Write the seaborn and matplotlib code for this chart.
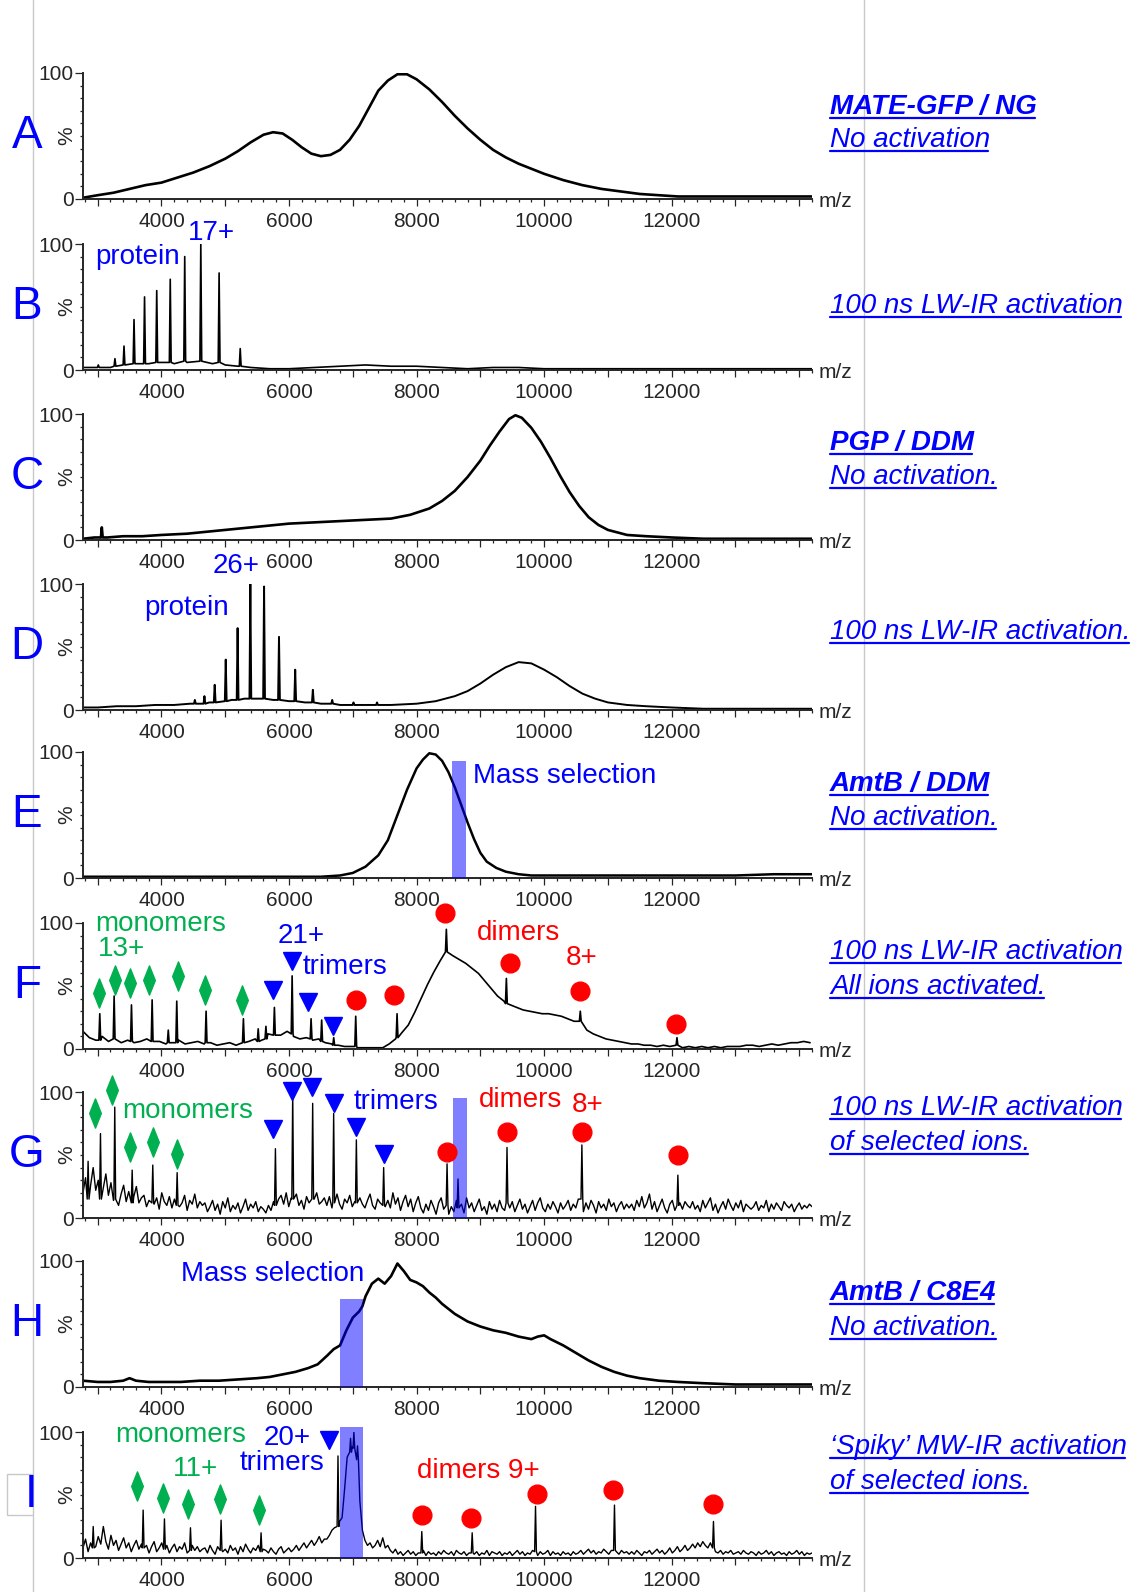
import numpy as np
import matplotlib
matplotlib.use("Agg")
import matplotlib.pyplot as plt
import seaborn as sns
from matplotlib.ticker import MultipleLocator, FuncFormatter
from matplotlib.path import Path
from matplotlib.lines import Line2D
from matplotlib.patches import Rectangle

# ---------------- data (m/z , % intensity) ----------------
A_mz = [2770, 3000, 3250, 3500, 3750, 4000, 4250, 4500, 4750, 5000, 5200, 5400, 5600, 5750, 5900,
        6050, 6200, 6350, 6500, 6650, 6800, 6950, 7100, 7250, 7400, 7550, 7700, 7850, 8000, 8200,
        8400, 8600, 8800, 9000, 9200, 9400, 9600, 9800, 10000, 10300, 10600, 10900, 11200, 11500,
        11800, 12100, 12500, 13000, 13500, 14000, 14200]
A_pct = [1, 3, 5, 8, 11, 13, 17, 21, 26, 32, 38, 45, 51, 53, 52, 47, 41, 36, 34, 35, 39, 47, 58, 72,
         86, 94, 99, 99, 95, 87, 77, 66, 56, 47, 39, 33, 28, 24, 20, 15, 11, 8, 6, 4, 3, 2, 2, 2, 2, 2, 2]

B_mz = [2770, 3000, 3200, 3400, 3600, 3800, 4000, 4200, 4400, 4600, 4800, 5000, 5200, 5400, 5700,
        6000, 6400, 6800, 7200, 7600, 8000, 8400, 8800, 9200, 9600, 10000, 10500, 11000, 11500,
        12000, 12500, 13000, 13500, 14200]
B_pct = [2, 3, 2, 4, 5, 5, 6, 5, 6, 6, 5, 4, 3, 2, 1, 1, 2, 3, 4, 3, 3, 2, 1, 2, 2, 1, 1, 1, 1, 1, 1, 1, 1, 1]
B_peak_mz = [3010, 3271, 3413, 3570, 3735, 3926, 4138, 4365, 4617, 4904, 5235]
B_peak_top = [4, 9, 19, 40, 58, 63, 72, 90, 100, 77, 17]
B_peak_base = [2, 3, 4, 5, 5, 6, 6, 7, 7, 6, 3]

C_mz = [2770, 2950, 3150, 3400, 3700, 4000, 4400, 4800, 5200, 5600, 6000, 6400, 6800, 7200, 7600,
        7900, 8200, 8400, 8600, 8800, 9000, 9150, 9300, 9450, 9550, 9650, 9800, 9950, 10100, 10250,
        10400, 10550, 10700, 10850, 11000, 11300, 11600, 12000, 12500, 13000, 13500, 14200]
C_pct = [1, 2, 2, 3, 3, 4, 5, 7, 9, 11, 13, 14, 15, 16, 17, 20, 25, 31, 39, 50, 63, 75, 86, 96, 99,
         97, 89, 78, 65, 51, 38, 27, 18, 12, 8, 4, 3, 2, 1, 1, 1, 1]
C_peak_mz = [3065]
C_peak_top = [10]
C_peak_base = [2]

D_mz = [2770, 3000, 3300, 3600, 3900, 4200, 4450, 4750, 5100, 5300, 5500, 5750, 6000, 6250, 6500,
        6800, 7200, 7600, 8000, 8300, 8600, 8800, 9000, 9200, 9400, 9600, 9800, 10000, 10200, 10400,
        10600, 10800, 11000, 11300, 11600, 12000, 12500, 13000, 13600, 14200]
D_pct = [2, 2, 3, 3, 4, 4, 5, 6, 8, 9, 9, 8, 7, 6, 5, 4, 4, 4, 5, 7, 11, 15, 21, 28, 34, 38, 37, 32,
         26, 19, 13, 9, 6, 4, 3, 2, 1, 1, 1, 1]
D_peak_mz = [4524, 4674, 4835, 5008, 5194, 5394, 5609, 5843, 6097, 6374, 6677, 7011, 7380]
D_peak_top = [8, 11, 20, 40, 65, 100, 98, 58, 32, 16, 8, 6, 6]
D_peak_base = [5, 5, 6, 7, 8, 9, 9, 8, 7, 6, 5, 4, 4]

E_mz = [2770, 3500, 4500, 5500, 6000, 6500, 6800, 7000, 7200, 7400, 7550, 7700, 7850, 8000, 8100,
        8200, 8300, 8400, 8500, 8600, 8700, 8800, 8900, 9000, 9100, 9250, 9400, 9600, 9800, 10200,
        11000, 12000, 13000, 13600, 14200]
E_pct = [1, 1, 1, 1, 1, 1, 2, 4, 9, 18, 30, 50, 70, 87, 94, 99, 98, 93, 84, 72, 58, 44, 31, 20, 13,
         8, 5, 3, 2, 2, 2, 2, 2, 3, 3]

F_base = [14, 9, 7, 10, 6, 8, 5,
          7, 5, 6, 8, 5, 6, 4,
          5, 7, 4, 5, 6, 4, 5,
          3, 4, 5, 3, 5, 6, 8,
          7, 12, 9, 11, 14, 10, 8,
          9, 7, 8, 5, 4, 3, 2,
          2, 1, 1, 1, 1, 1, 4,
          8, 13, 19, 29, 40, 51, 61,
          70, 77, 74, 71, 68, 64, 60,
          54, 48, 42, 38, 35, 33, 31,
          30, 29, 28, 28, 27, 26, 24,
          22, 19, 15, 12, 10, 8, 7,
          6, 5, 4, 4, 3, 3, 2,
          3, 2, 2, 1, 2, 1, 2,
          1, 2, 1, 2, 2, 2, 3,
          3, 2, 3, 4, 3, 4, 5,
          5, 6, 5]
F_peak_mz = [3033, 3258, 3530, 3854, 4107, 4240, 4700, 5285, 5517, 5638, 5771, 6049, 6346, 6512,
             6701, 7046, 7694, 8467, 9408, 10567, 12083]
F_peak_top = [28, 42, 35, 39, 15, 38, 30, 24, 16, 18, 33, 58, 24, 23, 9, 26, 28, 95, 56, 30, 9]
F_peak_base = [7, 8, 6, 6, 5, 5, 5, 5, 6, 8, 11, 12, 8, 6, 3, 2, 9, 77, 36, 22, 3]
F_mono_mz = [3016, 3271, 3506, 3804, 4263, 4682, 5262]
F_mono_pct = [44.6, 55, 52.6, 55, 58, 47, 39]
F_tri_mz = [5752, 6050, 6301, 6693]
F_tri_pct = [47, 70, 37, 18]
F_di_mz = [7049, 7649, 8443, 9462, 10559, 12075]
F_di_pct = [39, 43, 108, 68, 46, 20]

G_base = [20, 32, 15, 26, 40, 22, 30, 12, 24, 35, 18, 28, 14, 22, 10, 19, 26, 13, 21, 9, 17, 25, 12, 16,
          18, 9, 14, 21, 11, 16, 7, 20, 13, 10, 17, 8, 15, 22, 9, 12, 18, 6, 14, 11, 19, 8, 13, 10,
          12, 5, 9, 14, 6, 11, 3, 13, 8, 16, 5, 10, 7, 12, 4, 9, 15, 6, 11, 8, 13, 5, 9, 7,
          4, 10, 6, 13, 8, 15, 18, 11, 20, 9, 16, 12, 19, 10, 14, 7, 17, 12, 9, 15, 20, 11, 13, 16,
          10, 17, 8, 14, 19, 11, 7, 15, 12, 18, 9, 13, 6, 16, 11, 8, 14, 19, 10, 7, 15, 12, 18, 9,
          14, 8, 20, 11, 16, 6, 13, 18, 9, 15, 5, 12, 17, 8, 4, 11, 6, 14, 9, 3, 12, 16, 7, 4,
          3, 9, 5, 14, 7, 11, 4, 16, 8, 12, 5, 10, 15, 6, 9, 3, 13, 7, 11, 5, 14, 8, 6, 12,
          8, 13, 5, 10, 15, 7, 11, 4, 9, 14, 6, 12, 16, 8, 5, 11, 7, 13, 9, 4, 12, 7, 10, 14,
          6, 11, 8, 15, 9, 5, 12, 7, 14, 10, 4, 13, 8, 11, 6, 15, 9, 12, 5, 10, 13, 7, 11, 8,
          11, 6, 14, 9, 17, 8, 12, 19, 7, 13, 5, 10, 15, 8, 4, 11, 14, 6, 9, 12, 7, 13, 10, 8,
          13, 7, 10, 5, 14, 8, 12, 16, 6, 11, 4, 9, 13, 7, 15, 10, 6, 12, 8, 14, 5, 11, 9, 7,
          9, 13, 6, 10, 8, 14, 5, 11, 7, 12, 9, 6, 13, 10, 8, 11, 5, 9, 12, 7, 10, 8, 11, 9]
G_peak_mz = [2850, 3044, 3268, 3541, 3864, 4246, 5787, 6058, 6371, 6700, 7056, 7484, 8478, 8650,
             9418, 10592, 12097]
G_peak_top = [45, 67, 88, 38, 42, 36, 55, 100, 91, 83, 62, 40, 43, 31, 56, 58, 34]
G_peak_base = [15, 15, 15, 12, 12, 10, 10, 15, 15, 12, 12, 10, 10, 8, 12, 15, 10]
G_mono_mz = [2958, 3229, 3506, 3862, 4238]
G_mono_pct = [83, 101.6, 56, 60.6, 51]
G_tri_mz = [5752, 6050, 6354, 6708, 7049, 7492]
G_tri_pct = [71, 101, 104, 91.5, 72, 51]
G_di_mz = [8470, 9411, 10586, 12100]
G_di_pct = [52, 68, 68.5, 50]

H_mz = [2770, 3000, 3200, 3400, 3500, 3600, 3800, 4000, 4300, 4600, 4900, 5200, 5500, 5700, 5900,
        6100, 6300, 6450, 6600, 6700, 6800, 6900, 7000, 7100, 7150, 7200, 7300, 7400, 7500, 7600,
        7700, 7800, 7900, 8000, 8100, 8200, 8300, 8400, 8600, 8800, 9000, 9200, 9400, 9600, 9800,
        9900, 10000, 10100, 10300, 10500, 10700, 10900, 11100, 11300, 11500, 11800, 12100, 12500,
        13000, 13500, 14200]
H_pct = [5, 4, 4, 5, 7, 5, 4, 4, 4, 5, 5, 6, 7, 8, 10, 12, 15, 18, 25, 30, 33, 45, 55, 60, 64, 72,
         82, 86, 82, 88, 98, 92, 85, 83, 80, 75, 71, 66, 58, 52, 48, 45, 43, 40, 38, 40, 41, 38, 33,
         27, 21, 16, 12, 9, 7, 5, 4, 3, 2, 2, 2]

I_base = [8, 15, 5, 12, 22, 9, 17, 11, 25, 13, 7, 18, 10, 14, 6, 11, 16, 8, 12, 5, 10, 14, 7, 11,
          6, 10, 4, 9, 13, 5, 8, 12, 6, 10, 4, 8, 11, 5, 9, 7, 12, 4, 8, 10, 6, 9, 5, 7,
          8, 4, 10, 6, 3, 9, 12, 5, 7, 4, 10, 6, 8, 3, 9, 5, 11, 7, 4, 8, 6, 10, 5, 7,
          6, 4, 8, 5, 3, 7, 9, 4, 6, 8, 5, 7, 10, 6, 9, 12, 8, 11, 14, 10, 13, 17, 12, 15,
          15, 18, 22, 24, 26, 29, 32, 55, 80, 85, 88, 84, 75, 45, 22, 14, 10, 12, 8, 10, 14, 9, 16, 8,
          10, 6, 4, 7, 3, 5, 2, 4, 6, 3, 5, 2, 4, 3, 6, 2, 5, 3, 4, 2, 5, 3, 6, 4,
          3, 5, 2, 6, 4, 3, 5, 2, 4, 6, 3, 5, 2, 4, 3, 6, 2, 5, 4, 3, 5, 2, 4, 3,
          5, 2, 4, 6, 3, 5, 2, 4, 3, 6, 4, 2, 5, 3, 4, 6, 2, 5, 3, 4, 2, 5, 3, 4,
          2, 5, 3, 4, 6, 3, 5, 7, 4, 6, 3, 5, 4, 7, 5, 3, 6, 4, 5, 3, 6, 4, 5, 3,
          5, 3, 6, 4, 2, 5, 4, 6, 3, 5, 7, 4, 6, 3, 5, 8, 4, 6, 9, 5, 7, 10, 6, 8,
          11, 8, 12, 9, 13, 10, 8, 12, 7, 5, 4, 6, 3, 5, 4, 6, 3, 4, 5, 3, 6, 4, 3, 5,
          4, 2, 5, 3, 4, 6, 3, 5, 2, 4, 5, 3, 4, 2, 5, 3, 4, 6, 3, 5, 2, 4, 3, 4]
I_peak_mz = [2930, 3713, 4047, 4455, 4935, 5562, 6768, 6965, 7017, 7074, 8082, 8872, 9865, 11103, 12655]
I_peak_top = [25, 38, 31, 24, 30, 20, 81, 95, 100, 89, 21, 20, 41, 42, 29]
I_peak_base = [8, 8, 7, 6, 6, 5, 25, 84, 87, 78, 4, 4, 5, 6, 8]
I_mono_mz = [3611, 4019, 4411, 4917, 5528]
I_mono_pct = [57, 48, 43, 47, 38]
I_tri_mz = [6630]
I_tri_pct = [94]
I_di_mz = [8088, 8846, 9881, 11082, 12649]
I_di_pct = [34, 32, 50.5, 54, 43]

# mass-selection windows: panel, low m/z, high m/z, top %
SEL_panel = ["E", "G", "H", "I"]
SEL_lo = [8560, 8572, 6800, 6800]
SEL_hi = [8770, 8791, 7155, 7155]
SEL_top = [93, 95, 70, 104]

LETTERS = ["A", "B", "C", "D", "E", "F", "G", "H", "I"]

# right-hand captions
CAP_y = [106, 139, 305, 442, 476, 631, 783, 817, 951, 986, 1107, 1142, 1292, 1327, 1446, 1481]
CAP_text = ["MATE-GFP / NG", "No activation", "100 ns LW-IR activation", "PGP / DDM",
            "No activation.", "100 ns LW-IR activation.", "AmtB / DDM", "No activation.",
            "100 ns LW-IR activation", "All ions activated.", "100 ns LW-IR activation",
            "of selected ions.", "AmtB / C8E4", "No activation.",
            "\u2018Spiky\u2019 MW-IR activation", "of selected ions."]
CAP_bold = [True, False, False, True, False, False, True, False, False, False, False, False,
            True, False, False, False]

# in-panel labels: panel, text, m/z, %, colour
LAB_panel = ["B", "B", "D", "D", "E", "F", "F", "F", "F", "F", "F", "G", "G", "G", "G", "H",
             "I", "I", "I", "I", "I"]
LAB_text = ["protein", "17+", "26+", "protein", "Mass selection", "monomers", "13+", "21+",
            "trimers", "dimers", "8+", "monomers", "trimers", "dimers", "8+", "Mass selection",
            "monomers", "11+", "20+", "trimers", "dimers 9+"]
LAB_mz = [3620, 4776, 5172, 4396, 8879, 3990, 3370, 6195, 6880, 9592, 10590, 4412, 7675, 9623,
          10684, 5742, 4301, 4539, 5964, 5885, 8974]
LAB_pct = [90, 109, 114, 81, 81, 99, 79, 90, 65, 92, 72, 85, 92, 94, 90, 90, 98, 71, 95, 75, 69]
LAB_col = ["blue", "blue", "blue", "blue", "blue", "green", "green", "blue", "blue", "red", "red",
           "green", "blue", "red", "red", "blue", "green", "green", "blue", "blue", "red"]

# ---------------- style ----------------
sns.set_theme(style="ticks")
plt.rcParams['font.family'] = ['Liberation Sans', 'DejaVu Sans']

COL = {"blue": "#0000ff", "green": "#00b050", "red": "#ff0000"}
W, H = 1144, 1592
TOPS = [73, 244, 414, 584, 752, 923, 1092, 1261, 1432]
AX_H = 126
AX_L, AX_R = 83, 812
XMIN, XMAX = 2770, 14200

diamond = Path([(0, 1), (0.4, 0), (0, -1), (-0.4, 0), (0, 1)],
               [Path.MOVETO, Path.LINETO, Path.LINETO, Path.LINETO, Path.CLOSEPOLY])

fig = plt.figure(figsize=(W / 100, H / 100), dpi=100)


def trace(env_mz, env_pct, pk_mz=(), pk_top=(), pk_base=()):
    xs, ys = [], []
    for x, y in zip(env_mz, env_pct):
        if all(abs(x - p) > 20 for p in pk_mz):
            xs.append(x)
            ys.append(y)
    for p, t, b in zip(pk_mz, pk_top, pk_base):
        xs += [p - 14, p, p + 14]
        ys += [b, t, b]
    order = np.argsort(xs, kind="stable")
    return np.array(xs)[order], np.array(ys)[order]


def xlabel_fmt(v, pos):
    v = int(round(v))
    return f"{v}" if v % 2000 == 0 and 4000 <= v <= 12000 else ""


axes = {}
for letter, top in zip(LETTERS, TOPS):
    ax = fig.add_axes([AX_L / W, 1 - (top + AX_H) / H, (AX_R - AX_L) / W, AX_H / H])
    ax.set_xlim(XMIN, XMAX)
    ax.set_ylim(0, 100)
    ax.patch.set_alpha(0)
    sns.despine(ax=ax)
    ax.spines['left'].set_linewidth(1.4)
    ax.spines['bottom'].set_linewidth(1.4)
    ax.xaxis.set_major_locator(MultipleLocator(1000))
    ax.xaxis.set_minor_locator(MultipleLocator(200))
    ax.xaxis.set_major_formatter(FuncFormatter(xlabel_fmt))
    ax.set_yticks([0, 100])
    ax.yaxis.set_minor_locator(MultipleLocator(10))
    ax.tick_params(axis='x', which='major', length=5, width=0.9, pad=4.5, labelsize=15)
    ax.tick_params(axis='x', which='minor', length=2.2, width=0.9)
    ax.tick_params(axis='y', which='major', length=5.5, width=0.9, pad=1, labelsize=15)
    ax.tick_params(axis='y', which='minor', length=2.2, width=0.9)
    ax.text(-0.022, 0.5, "%", transform=ax.transAxes, rotation=90, ha='center', va='center',
            fontsize=15)
    ax.text(1.009, -0.02, "m/z", transform=ax.transAxes, ha='left', va='center', fontsize=15)
    fig.text((31 if letter == "I" else 27) / W, 1 - (top + AX_H / 2) / H, letter,
             fontsize=33, color=COL["blue"], ha='center', va='center')
    axes[letter] = ax

series = {
    "A": trace(A_mz, A_pct),
    "B": trace(B_mz, B_pct, B_peak_mz, B_peak_top, B_peak_base),
    "C": trace(C_mz, C_pct, C_peak_mz, C_peak_top, C_peak_base),
    "D": trace(D_mz, D_pct, D_peak_mz, D_peak_top, D_peak_base),
    "E": trace(E_mz, E_pct),
    "F": trace(np.linspace(2770, 14170, len(F_base)), F_base, F_peak_mz, F_peak_top, F_peak_base),
    "G": trace(np.linspace(XMIN, XMAX, len(G_base)), G_base, G_peak_mz, G_peak_top, G_peak_base),
    "H": trace(H_mz, H_pct),
    "I": trace(np.linspace(XMIN, XMAX, len(I_base)), I_base, I_peak_mz, I_peak_top, I_peak_base),
}
LW = {"A": 1.9, "B": 1.2, "C": 1.9, "D": 1.4, "E": 1.8, "F": 1.2, "G": 1.0, "H": 1.9, "I": 1.0}
for letter, (x, y) in series.items():
    sns.lineplot(x=x, y=y, ax=axes[letter], color='black', linewidth=LW[letter],
                 estimator=None, sort=False, zorder=2)
    axes[letter].set_xlabel("")
    axes[letter].set_ylabel("")

# mass-selection bars
for p, lo, hi, tp in zip(SEL_panel, SEL_lo, SEL_hi, SEL_top):
    axes[p].bar([(lo + hi) / 2], [tp], width=hi - lo, color=COL["blue"], alpha=0.5,
                linewidth=0, zorder=3, clip_on=False)

# ion-series markers
MK = [("F", F_mono_mz, F_mono_pct, diamond, 21, "green"),
      ("F", F_tri_mz, F_tri_pct, "v", 13, "blue"),
      ("F", F_di_mz, F_di_pct, "o", 13.5, "red"),
      ("G", G_mono_mz, G_mono_pct, diamond, 21, "green"),
      ("G", G_tri_mz, G_tri_pct, "v", 13, "blue"),
      ("G", G_di_mz, G_di_pct, "o", 13.5, "red"),
      ("I", I_mono_mz, I_mono_pct, diamond, 21, "green"),
      ("I", I_tri_mz, I_tri_pct, "v", 13, "blue"),
      ("I", I_di_mz, I_di_pct, "o", 13.5, "red")]
for p, xs, ys, m, ms, c in MK:
    axes[p].plot(xs, ys, ls='none', marker=m, ms=ms, color=COL[c], mec=COL[c], clip_on=False,
                 zorder=4)

for p, s, x, y, c in zip(LAB_panel, LAB_text, LAB_mz, LAB_pct, LAB_col):
    ha = 'left' if s == "Mass selection" and p == "E" else 'center'
    axes[p].text(x, y, s, color=COL[c], fontsize=20, ha=ha, va='center', clip_on=False, zorder=5)

# right-hand captions, underlined
caps = []
for yc, s, b in zip(CAP_y, CAP_text, CAP_bold):
    t = fig.text(830 / W, 1 - (yc + 8) / H, s, color=COL["blue"], fontsize=20, style='italic',
                 weight='bold' if b else 'normal', ha='left', va='baseline')
    caps.append((t, yc + 8))

# frame lines of the original slide
grey = "#c8c8c8"
fig.add_artist(Line2D([32.5 / W, 32.5 / W], [1, 1 - 1474 / H], color=grey, lw=1))
fig.add_artist(Line2D([32.5 / W, 32.5 / W], [1 - 1515 / H, 0], color=grey, lw=1))
fig.add_artist(Line2D([864 / W, 864 / W], [1, 0], color=grey, lw=1))
fig.add_artist(Rectangle((7 / W, 1 - 1515 / H), 25.5 / W, 41 / H, transform=fig.transFigure,
                         fill=False, edgecolor=grey, lw=1, zorder=0))

fig.canvas.draw()
r = fig.canvas.get_renderer()
for t, base in caps:
    bb = t.get_window_extent(r)
    yy = 1 - (base + 4) / H
    fig.add_artist(Line2D([bb.x0 / W, (bb.x1 - 2) / W], [yy, yy], color=COL["blue"], lw=1.6))

fig.savefig("out.png", dpi=100)
